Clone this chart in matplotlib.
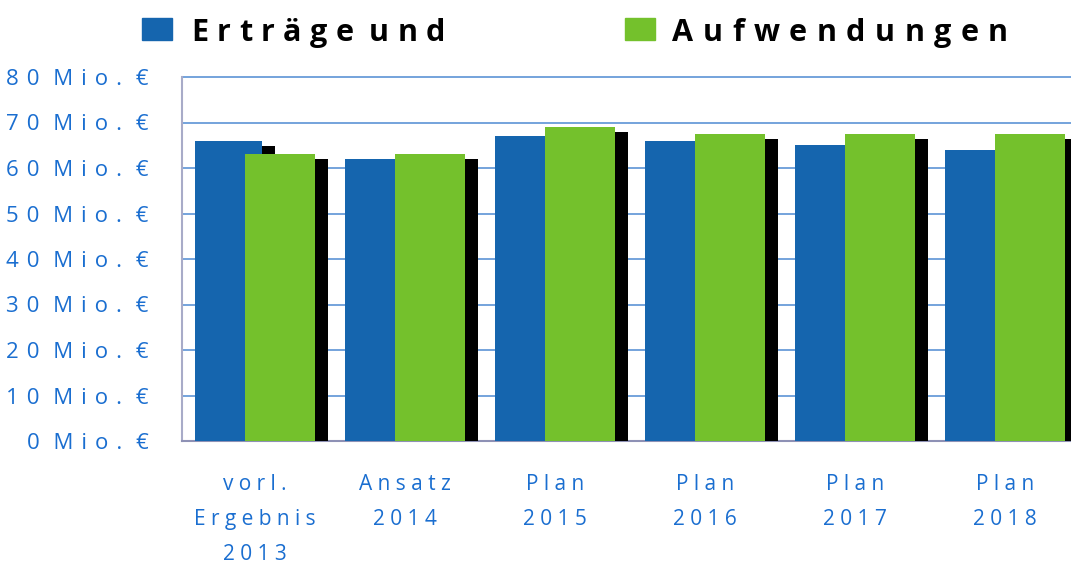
import matplotlib
matplotlib.use("Agg")
import matplotlib.pyplot as plt
from matplotlib.patches import Rectangle
from matplotlib.ticker import FixedLocator, FuncFormatter
import numpy as np

plt.rcParams["font.family"] = ["Open Sans", "DejaVu Sans"]

# data (Mio. EUR)
categories = ["vorl.\nErgebnis\n2013", "Ansatz\n2014", "Plan\n2015",
              "Plan\n2016", "Plan\n2017", "Plan\n2018"]
ertraege = [66, 62, 67, 66, 65, 64]
aufwendungen = [63, 63, 69, 67.5, 67.5, 67.5]
series_labels = ["Erträge und", "Aufwendungen"]
y_ticks = [0, 10, 20, 30, 40, 50, 60, 70, 80]

BLUE = "#1565ae"
GREEN = "#74c12c"
LABEL = "#1a6ed0"
GRID = "#74a3dc"
HAIR = "\u200a"


def spaced(s, gap=" ", wgap="  "):
    # imitate the wide character spacing of the original
    return "\n".join(wgap.join(gap.join(w) for w in line.split())
                     for line in s.split("\n"))


W, H = 1071, 563
fig = plt.figure(figsize=(W / 100, H / 100), dpi=100)
ax = fig.add_axes([182 / W, 122 / H, 1 - 182 / W, (441 - 77) / H])

x = np.arange(len(categories))
shadow_dx, shadow_dy = 0.087, 1.1
series = [(ertraege, BLUE, -0.177, 0.447), (aufwendungen, GREEN, 0.167, 0.467)]
z = 2
for vals, color, off, w in series:
    v = np.asarray(vals, dtype=float)
    ax.bar(x + off + shadow_dx, v - shadow_dy, w, color="black",
           linewidth=0, zorder=z)
    ax.bar(x + off, v, w, color=color, linewidth=0, zorder=z + 1)
    z += 2

ax.set_xlim(-0.487, 5.44)
ax.set_ylim(0, 80)
ax.yaxis.set_major_locator(FixedLocator(y_ticks))
ax.yaxis.set_major_formatter(FuncFormatter(
    lambda v, _: spaced(f"{v:.0f} Mio. €", " " + HAIR, "  " + HAIR)))
ax.set_xticks(x)
ax.set_xticklabels([spaced(c) for c in categories])
for lbl in ax.get_xticklabels():
    lbl.set_linespacing(1.85)

ax.tick_params(axis="both", length=0, colors=LABEL)
ax.tick_params(axis="y", labelsize=16, pad=24)
ax.tick_params(axis="x", labelsize=15, pad=24)

for t in y_ticks[1:]:
    ax.axhline(t, color=GRID, linewidth=1.4, zorder=1, clip_on=False)

for s in ("top", "right"):
    ax.spines[s].set_visible(False)
ax.spines["left"].set_color("#a8abc8")
ax.spines["left"].set_linewidth(1.5)
ax.spines["bottom"].set_color("#8e91b5")
ax.spines["bottom"].set_linewidth(1.5)


def tracked_text(x0, x1, y, text, word_extra=7, **kw):
    """Draw text letter by letter so that it spans x0..x1 (pixels)."""
    r = fig.canvas.get_renderer()
    glyphs, gaps = [], []
    for ch in text:
        if ch == " ":
            gaps[-1] += word_extra
            continue
        glyphs.append(fig.text(0, y / H, ch, **kw))
        gaps.append(0.0)
    widths = [g.get_window_extent(r).width for g in glyphs]
    track = (x1 - x0 - sum(widths) - sum(gaps)) / (len(glyphs) - 1)
    xpos = x0
    for g, w, extra in zip(glyphs, widths, gaps):
        g.set_x(xpos / W)
        xpos += w + track + extra


# legend across the top
legend_items = [(series_labels[0], BLUE, 142, 191, 445),
                (series_labels[1], GREEN, 625, 672, 1008)]
for text, color, px, tx0, tx1 in legend_items:
    fig.patches.append(Rectangle((px / W, (H - 40) / H), 30 / W, 22 / H,
                                 transform=fig.transFigure, color=color))
    tracked_text(tx0, tx1, H - 41, text, fontsize=22, fontweight="bold",
                 color="black", va="baseline", ha="left")

fig.savefig("out.png", dpi=100)
